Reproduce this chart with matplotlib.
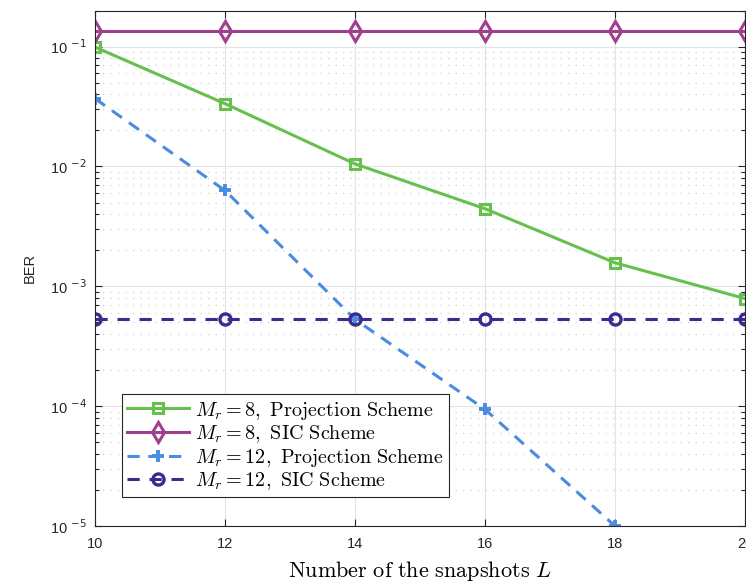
import matplotlib
matplotlib.use("Agg")
import matplotlib.pyplot as plt
import numpy as np

plt.rcParams['mathtext.fontset'] = 'cm'
plt.rcParams['font.family'] = ['Liberation Sans', 'DejaVu Sans']

# snapshots L
L = [10, 12, 14, 16, 18, 20]
# BER values
ber_proj_8 = [0.099, 0.0334, 0.0105, 0.00444, 0.00157, 0.00079]
ber_sic_8 = [0.136, 0.136, 0.136, 0.136, 0.136, 0.136]
ber_proj_12 = [0.0368, 0.0063, 0.00053, 0.000094, 0.00001]
ber_sic_12 = [0.000537, 0.000537, 0.000537, 0.000537, 0.000537, 0.000537]

c_green = '#66c04e'
c_purple = '#a03f8e'
c_blue = '#4a8ce0'
c_navy = '#3b2b8e'

fig = plt.figure(figsize=(7.46, 5.83), dpi=100)
ax = fig.add_axes([95/746, 57/583, 650/746, 515.5/583])

ax.plot(L, ber_proj_8, color=c_green, lw=2.2, marker='s', ms=6.5, mfc='none', mew=2.2,
        label=r'$M_r = 8,\ \mathrm{Projection\ Scheme}$')
ax.plot(L, ber_sic_8, color=c_purple, lw=2.2, marker='d', ms=10, mfc='none', mew=2.2,
        label=r'$M_r = 8,\ \mathrm{SIC\ Scheme}$')
ax.plot(L[:5], ber_proj_12, color=c_blue, lw=2.2, ls='--', dashes=(4, 2.8), marker='+',
        ms=9, mew=2.8, label=r'$M_r = 12,\ \mathrm{Projection\ Scheme}$')
ax.plot(L, ber_sic_12, color=c_navy, lw=2.2, ls='--', dashes=(4, 3.2), marker='o', ms=8,
        mfc='none', mew=2.4, label=r'$M_r = 12,\ \mathrm{SIC\ Scheme}$')

ax.set_yscale('log')
ax.set_xlim(10, 20)
ax.set_ylim(1e-5, 0.2)
ax.set_xticks([10, 12, 14, 16, 18, 20])
ax.set_yticks([1e-5, 1e-4, 1e-3, 1e-2, 1e-1])
ax.set_yticklabels(['10 $^{-5}$', '10 $^{-4}$', '10 $^{-3}$', '10 $^{-2}$', '10 $^{-1}$'],
                   math_fontfamily='dejavusans')
ax.yaxis.set_minor_locator(matplotlib.ticker.LogLocator(base=10, subs=np.arange(2, 10)))
ax.yaxis.set_minor_formatter(matplotlib.ticker.NullFormatter())

ax.tick_params(which='both', direction='in', top=True, right=True, labelsize=10.5,
               colors='#262626', width=0.8)
ax.tick_params(which='major', length=5, pad=6)
ax.tick_params(axis='x', which='major', pad=8)
ax.tick_params(which='minor', length=3)
ax.grid(True, which='major', color='#e3e3e3', lw=0.8)
ax.grid(True, which='minor', axis='y', color='#cfcfcf', ls=(0, (1, 5)), lw=0.9)
ax.set_axisbelow(True)
for s in ax.spines.values():
    s.set_color('#262626')
    s.set_linewidth(0.8)

ax.set_xlabel(r'$\mathrm{Number\ of\ the\ snapshots}\ L$', fontsize=16, labelpad=6)
ax.set_ylabel('BER', fontsize=10.5, color='#262626', labelpad=9)

leg = ax.legend(loc='lower left', bbox_to_anchor=(0.0415, 0.056), fontsize=14.5,
                handlelength=3.1, labelspacing=0.08, borderpad=0.25, handletextpad=0.3,
                fancybox=False, framealpha=1, edgecolor='#262626', borderaxespad=0)
leg.get_frame().set_linewidth(0.8)

plt.savefig('out.png', dpi=100)
